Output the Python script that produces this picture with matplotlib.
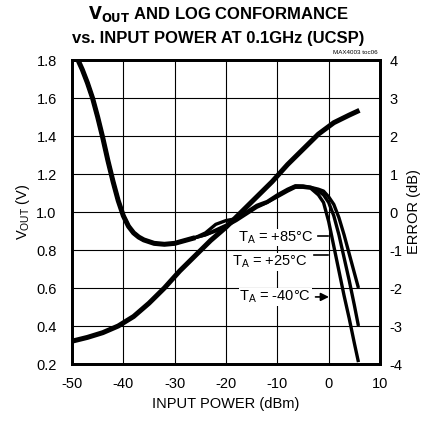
import numpy as np
import matplotlib
matplotlib.use("Agg")
import matplotlib.pyplot as plt

plt.rcParams['font.family'] = ['Liberation Sans', 'DejaVu Sans']
plt.rcParams['mathtext.default'] = 'regular'
plt.rcParams['axes.unicode_minus'] = False

# VOUT curve (V) vs input power (dBm)
vout_x = [-50, -47, -44, -41, -38, -35, -32, -29, -26, -23, -20, -17, -14, -11, -8, -5, -2, 1, 4, 6]
vout_y = [0.32, 0.34, 0.365, 0.40, 0.45, 0.52, 0.60, 0.69, 0.77, 0.85, 0.92, 1.00, 1.08, 1.16, 1.25,
          1.33, 1.41, 1.47, 1.51, 1.535]

# log conformance error, shared low-power part (plotted on the VOUT scale, 0 dB = 1.0 V)
err_low_x = [-50, -49, -48, -47, -46, -45, -44, -43, -42, -41, -40, -39, -38, -37, -36, -34, -32,
             -30, -28, -26]
err_low_y = [1.87, 1.81, 1.75, 1.68, 1.60, 1.50, 1.39, 1.27, 1.16, 1.06, 0.98, 0.925, 0.89, 0.868,
             0.853, 0.835, 0.83, 0.835, 0.85, 0.865]

# mid part per temperature
err_mid_x = [-24, -22, -20, -18, -16, -14, -12, -10, -8, -6.5, -5, -3.5]
err_mid_85 = [0.89, 0.935, 0.955, 0.965, 0.995, 1.03, 1.05, 1.085, 1.115, 1.135, 1.135, 1.13]
err_mid_25 = [0.88, 0.905, 0.93, 0.962, 1.0, 1.035, 1.055, 1.09, 1.12, 1.138, 1.137, 1.13]
err_mid_m40 = [0.88, 0.90, 0.925, 0.955, 0.99, 1.025, 1.05, 1.08, 1.11, 1.13, 1.13, 1.125]

# high-power roll-off per temperature
err_hi_x = [-2, -1, 0, 1, 2, 3, 4, 5, 5.8]
err_hi_85 = [1.12, 1.11, 1.08, 1.04, 0.97, 0.88, 0.78, 0.68, 0.60]
err_hi_25 = [1.11, 1.09, 1.05, 0.98, 0.88, 0.76, 0.64, 0.51, 0.40]
err_hi_m40 = [1.09, 1.05, 0.95, 0.82, 0.69, 0.56, 0.44, 0.31, 0.21]

fig = plt.figure(figsize=(4.28, 4.25), dpi=100)
ax = fig.add_axes([72 / 428, 1 - 364 / 425, 308 / 428, 304 / 425])

lw_thick = 3.6
ax.plot(vout_x, vout_y, color='black', lw=lw_thick, solid_capstyle='butt', zorder=3)

ex = err_low_x + err_mid_x + err_hi_x
for mid, hi in [(err_mid_85, err_hi_85), (err_mid_25, err_hi_25), (err_mid_m40, err_hi_m40)]:
    ey = err_low_y + mid + hi
    ax.plot(ex, ey, color='black', lw=2.4, solid_capstyle='butt', zorder=3)
# low-power part is drawn heavier (curves overlap there)
ax.plot(err_low_x, err_low_y, color='black', lw=lw_thick, solid_capstyle='butt', zorder=3)

ax.set_xlim(-50, 10)
ax.set_ylim(0.2, 1.8)
ax.set_xticks(np.arange(-50, 11, 10))
ax.set_yticks(np.arange(0.2, 1.81, 0.2))
ax.set_yticklabels(['0.2', '0.4', '0.6', '0.8', '1.0', '1.2', '1.4', '1.6', '1.8'])
ax.grid(True, color='black', lw=0.8)
ax.set_axisbelow(True)
ax.tick_params(length=0, labelsize=10.5)
ax.tick_params(axis='y', pad=11)
ax.tick_params(axis='x', pad=9)
for s in ax.spines.values():
    s.set_linewidth(2.0)

ax2 = ax.twinx()
ax2.set_ylim(-4, 4)
ax2.set_yticks(np.arange(-4, 5, 1))
ax2.tick_params(length=0, labelsize=10.5, pad=7)
for s in ax2.spines.values():
    s.set_linewidth(2.0)

ax.set_xlabel('INPUT POWER (dBm)', fontsize=10.5, labelpad=5)
ax.set_ylabel('$V_{OUT}$ (V)', fontsize=10.5, labelpad=3)
ax2.set_ylabel('ERROR (dB)', fontsize=10.5, labelpad=3)

# temperature labels
box = dict(facecolor='white', edgecolor='none', pad=0.5)
ax.text(-10.3, 0.866, '$T_A$ = +85°C', fontsize=10.5, ha='center', va='center', bbox=box, zorder=2)
ax.plot([-2.1, -0.2], [0.874, 0.874], color='black', lw=1.2, zorder=2)
ax.text(-11.4, 0.737, '$T_A$ = +25°C', fontsize=10.5, ha='center', va='center', bbox=box, zorder=2)
ax.plot([-2.9, -0.2], [0.774, 0.774], color='black', lw=1.2, zorder=2)
ax.text(-10.4, 0.553, '$T_A$ = -40°C', fontsize=10.5, ha='center', va='center', bbox=box, zorder=2)
ax.annotate('', xy=(0.6, 0.553), xytext=(-3.1, 0.553),
            arrowprops=dict(arrowstyle='-|>', color='black', lw=1.2, mutation_scale=12))

fig.text(0.51, 1 - 14 / 425, '$\\mathbf{V_{OUT}}$ AND LOG CONFORMANCE', fontsize=12,
         fontweight='bold', ha='center', va='center')
fig.text(0.51, 1 - 38 / 425, 'vs. INPUT POWER AT 0.1GHz (UCSP)', fontsize=12,
         fontweight='bold', ha='center', va='center')
fig.text(378 / 428, 1 - 53 / 425, 'MAX4003 toc06', fontsize=4.5, ha='right', va='center')

fig.savefig('out.png', dpi=100)
